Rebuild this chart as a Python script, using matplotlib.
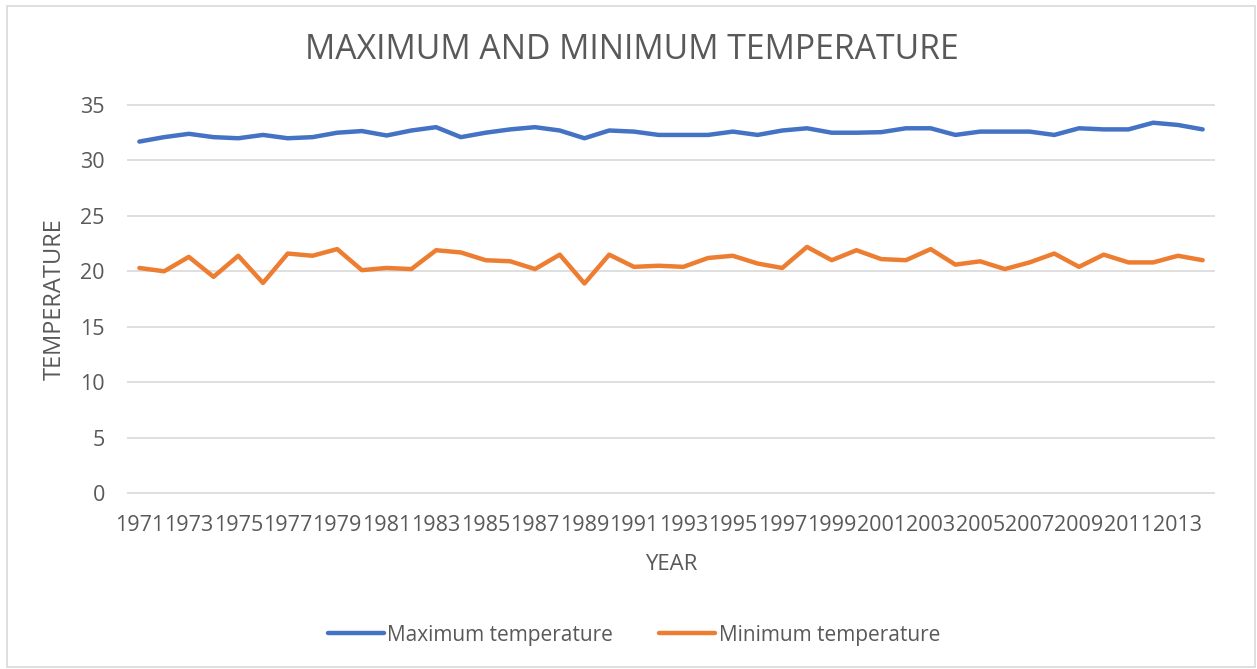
import matplotlib.pyplot as plt
from matplotlib.patches import Rectangle

years = list(range(1971, 2015))

max_temp = [
    31.7, 32.1, 32.4, 32.1, 32.0, 32.3, 32.0, 32.1, 32.5, 32.65,
    32.25, 32.7, 33.0, 32.1, 32.5, 32.8, 33.0, 32.7, 32.0, 32.7,
    32.6, 32.3, 32.3, 32.3, 32.6, 32.3, 32.7, 32.9, 32.5, 32.5,
    32.55, 32.9, 32.9, 32.3, 32.6, 32.6, 32.6, 32.3, 32.9, 32.8,
    32.8, 33.4, 33.2, 32.8,
]

min_temp = [
    20.3, 20.0, 21.3, 19.5, 21.4, 18.95, 21.6, 21.4, 22.0, 20.1,
    20.3, 20.2, 21.9, 21.7, 21.0, 20.9, 20.2, 21.5, 18.9, 21.5,
    20.4, 20.5, 20.4, 21.2, 21.4, 20.7, 20.3, 22.2, 21.0, 21.9,
    21.1, 21.0, 22.0, 20.6, 20.9, 20.2, 20.8, 21.6, 20.4, 21.5,
    20.8, 20.8, 21.4, 21.0,
]

yticks = [0, 5, 10, 15, 20, 25, 30, 35]

text_color = '#595959'
grid_color = '#D9D9D9'
plt.rcParams['font.family'] = ['Open Sans', 'DejaVu Sans']

W, H = 1257, 669
fig = plt.figure(figsize=(W / 100, H / 100), dpi=100)

# chart area border
fig.patches.append(Rectangle((7 / W, 2 / H), (1255 - 7) / W, (663 - 2) / H,
                             transform=fig.transFigure, fill=False,
                             edgecolor='#D9D9D9', linewidth=1.2))

# plot area
left, right, top, bottom = 127, 1215, 105, 493
ax = fig.add_axes([left / W, (H - bottom) / H, (right - left) / W, (bottom - top) / H])

x = list(range(len(years)))
ax.hlines(yticks, -0.5, len(years) - 0.5, colors=grid_color, linewidth=1.2, clip_on=False, zorder=1)

ax.plot(x, max_temp, color='#4472C4', linewidth=3.2, solid_capstyle='round',
        solid_joinstyle='round', label='Maximum temperature', zorder=3)
ax.plot(x, min_temp, color='#ED7D31', linewidth=3.2, solid_capstyle='round',
        solid_joinstyle='round', label='Minimum temperature', zorder=3)

ax.set_xlim(-0.5, len(years) - 0.5)
ax.set_ylim(0, 35)
ax.set_yticks(yticks)
ax.set_yticklabels([str(v) for v in yticks])
ax.set_xticks(x[::2])
ax.set_xticklabels([str(y) for y in years[::2]])
ax.tick_params(axis='both', length=0, labelsize=15.5, labelcolor=text_color)
ax.tick_params(axis='x', pad=16)
ax.tick_params(axis='y', pad=16)
for s in ax.spines.values():
    s.set_visible(False)

ax.set_xlabel('YEAR', fontsize=16, color=text_color, labelpad=13)
ax.set_ylabel('TEMPERATURE', fontsize=17, color=text_color, labelpad=10)

fig.text(632 / W, 1 - 50 / H, 'MAXIMUM AND MINIMUM TEMPERATURE', fontsize=24.3,
         color=text_color, ha='center', va='center')

fig.legend(loc='center', bbox_to_anchor=(634 / W, 1 - 635 / H), ncol=2, frameon=False,
           fontsize=15, labelcolor=text_color, handlelength=2.7, handletextpad=0.15,
           columnspacing=2.2)

fig.savefig('out.png', dpi=100)
